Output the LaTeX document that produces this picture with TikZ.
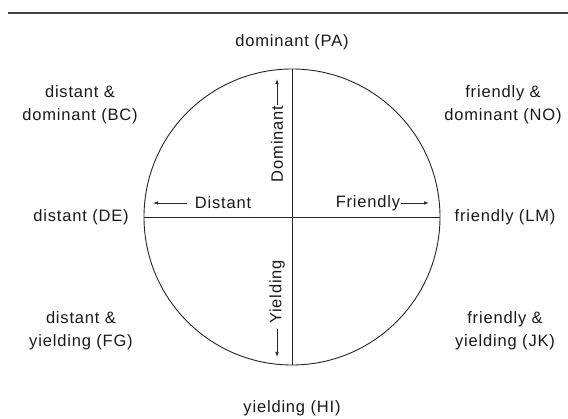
\documentclass[tikz,border=0pt]{standalone}
\usepackage{fontspec}
\setmainfont{Liberation Sans}[LetterSpace=5]
\usetikzlibrary{arrows.meta}
\begin{document}
\begin{tikzpicture}[x=1pt,y=1pt,
  lbl/.style={font=\fontsize{16.5}{23}\selectfont, align=center, inner sep=0pt, text=black!90},
  axis/.style={line width=0.9pt, black!85},
  arr/.style={-{Latex[length=5pt,width=3.5pt]}, line width=0.8pt, black!85}]
\useasboundingbox (0,0) rectangle (568,-419);
\draw[line width=1.6pt, black!75] (8,-13) -- (568,-13);
\coordinate (c) at (292,-217);
\draw[axis] (c) circle (148);
\draw[axis] (144,-217) -- (440,-217);
\draw[axis] (292,-69) -- (292,-365);
% outer labels
\node[lbl] (pa) at (292,-42) {dominant (PA)};
\node[lbl] (bc) at (80,-105) {distant \&\\dominant (BC)};
\node[lbl] (de) at (81,-217) {distant (DE)};
\node[lbl] (fg) at (81,-331) {distant \&\\yielding (FG)};
\node[lbl] (no) at (503,-105) {friendly \&\\dominant (NO)};
\node[lbl] (lm) at (505,-217) {friendly (LM)};
\node[lbl] (jk) at (505,-331) {friendly \&\\yielding (JK)};
\node[lbl] (hi) at (292,-408) {yielding (HI)};
% inner labels
\node[lbl] (dist) at (223,-203) {Distant};
\coordinate (distend) at (153,-203);
\draw[arr] ([xshift=-8pt]dist.west) -- (distend);
\node[lbl] (fr) at (368,-203) {Friendly};
\coordinate (frend) at (429,-203);
\draw[arr] ([xshift=1pt]fr.east) -- (frend);
\node[lbl, rotate=90] (dom) at (277,-144) {Dominant};
\coordinate (domend) at (277,-79);
\draw[arr] ([yshift=1pt]dom.east) -- (dom.east |- domend);
\node[lbl, rotate=90] (yl) at (277,-292) {Yielding};
\coordinate (ylend) at (277,-357);
\draw[arr] ([yshift=-5pt]yl.west) -- (yl.west |- ylend);
\end{tikzpicture}
\end{document}
